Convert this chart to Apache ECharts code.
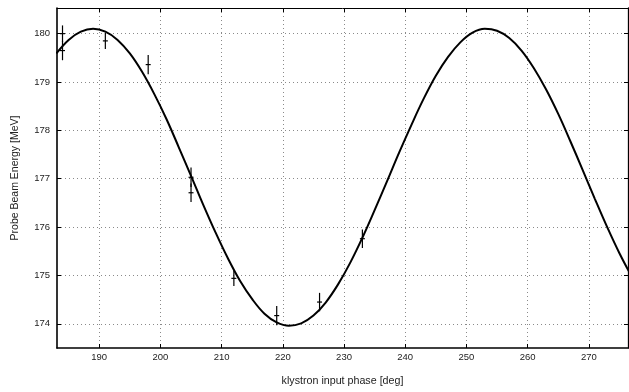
<!DOCTYPE html>
<html>
<head>
<meta charset="utf-8">
<script src="https://cdn.jsdelivr.net/npm/echarts@6/dist/echarts.min.js"></script>
<style>
html,body{margin:0;padding:0;background:#fff;}
#chart{width:629px;height:392px;}
</style>
</head>
<body>
<div id="chart"></div>
<script>
// Fitted curve (klystron phase [deg] -> energy [MeV])
const fitPhase = [183,185,187,189,191,193,195,197,199,201,203,205,207,209,211,213,215,217,219,221,223,225,227,229,231,233,235,237,239,241,243,245,247,249,251,253,255,257,259,261,263,265,267,269,271,273,275,277];
const fitEnergy = [179.59,179.87,180.04,180.10,180.04,179.87,179.59,179.21,178.75,178.23,177.65,177.06,176.46,175.89,175.36,174.89,174.51,174.21,174.03,173.96,174.01,174.17,174.44,174.81,175.26,175.78,176.35,176.94,177.54,178.11,178.65,179.13,179.52,179.82,180.02,180.10,180.06,179.91,179.65,179.29,178.85,178.34,177.77,177.18,176.58,176.00,175.46,174.98];

// Measurements with error bars
const measPhase  = [184, 184, 191, 198, 205, 205, 212, 219, 226, 233];
const measEnergy = [180.00, 179.65, 179.85, 179.36, 177.03, 176.71, 174.94, 174.17, 174.45, 175.76];
const measError  = [0.17, 0.20, 0.17, 0.20, 0.20, 0.19, 0.16, 0.20, 0.19, 0.19];

// Tick labels
const xTicks = [190, 200, 210, 220, 230, 240, 250, 260, 270];
const yTicks = [174, 175, 176, 177, 178, 179, 180];

const X_MIN = 183.1, X_MAX = 276.4, Y_MIN = 173.5, Y_MAX = 180.53;
const FONT = 'Liberation Sans, Arial, Helvetica, sans-serif';

const chart = echarts.init(document.getElementById('chart'), null, {renderer: 'canvas'});

const gridLine = {show: true, lineStyle: {color: '#8a8a8a', type: [1, 3], width: 1}};

const option = {
  backgroundColor: '#ffffff',
  animation: false,
  grid: {left: 57, top: 8, right: 1, bottom: 44, containLabel: false},
  xAxis: [
    {
      type: 'value', min: X_MIN, max: X_MAX, position: 'bottom',
      name: 'klystron input phase [deg]', nameLocation: 'middle', nameGap: 28,
      nameTextStyle: {fontFamily: FONT, fontSize: 10.7, color: '#222'},
      axisLine: {show: true, onZero: false, lineStyle: {color: '#000', width: 1.6}},
      axisTick: {show: true, inside: true, length: 4, customValues: xTicks, lineStyle: {color: '#000', width: 1}},
      axisLabel: {show: true, customValues: xTicks, margin: 4, fontFamily: FONT, fontSize: 9.5, color: '#222'},
      splitLine: gridLine
    },
    {
      type: 'value', min: X_MIN, max: X_MAX, position: 'top',
      axisLine: {show: true, onZero: false, lineStyle: {color: '#000', width: 1}},
      axisTick: {show: true, inside: true, length: 4, customValues: xTicks, lineStyle: {color: '#000', width: 1}},
      axisLabel: {show: false},
      splitLine: {show: false}
    }
  ],
  yAxis: [
    {
      type: 'value', min: Y_MIN, max: Y_MAX, position: 'left',
      name: 'Probe Beam Energy [MeV]', nameLocation: 'middle', nameGap: 36,
      nameTextStyle: {fontFamily: FONT, fontSize: 10.5, color: '#222'},
      axisLine: {show: true, onZero: false, lineStyle: {color: '#000', width: 1.6}},
      axisTick: {show: true, inside: true, length: 4, customValues: yTicks, lineStyle: {color: '#000', width: 1}},
      axisLabel: {show: true, customValues: yTicks, margin: 7, fontFamily: FONT, fontSize: 9.5, color: '#222'},
      splitLine: gridLine
    },
    {
      type: 'value', min: Y_MIN, max: Y_MAX, position: 'right',
      axisLine: {show: true, onZero: false, lineStyle: {color: '#000', width: 1.3}},
      axisTick: {show: true, inside: true, length: 4, customValues: yTicks, lineStyle: {color: '#000', width: 1}},
      axisLabel: {show: false},
      splitLine: {show: false}
    }
  ],
  series: [
    {
      type: 'line',
      xAxisIndex: 0, yAxisIndex: 0,
      data: fitPhase.map((x, i) => [x, fitEnergy[i]]),
      smooth: 0.4,
      symbol: 'none',
      clip: true,
      lineStyle: {color: '#000', width: 2},
      z: 3
    },
    {
      type: 'custom',
      xAxisIndex: 0, yAxisIndex: 0,
      data: measPhase.map((x, i) => [x, measEnergy[i], measError[i]]),
      renderItem: function (params, api) {
        const x = api.value(0), y = api.value(1), e = api.value(2);
        const top = api.coord([x, y + e]);
        const bot = api.coord([x, y - e]);
        const c = api.coord([x, y]);
        return {
          type: 'group',
          children: [
            {type: 'line', shape: {x1: top[0], y1: top[1], x2: bot[0], y2: bot[1]}, style: {stroke: '#000', lineWidth: 1.2}},
            {type: 'line', shape: {x1: c[0] - 2.5, y1: c[1], x2: c[0] + 2.5, y2: c[1]}, style: {stroke: '#000', lineWidth: 1.2}}
          ]
        };
      },
      z: 4
    }
  ]
};
chart.setOption(option);
</script>
</body>
</html>
